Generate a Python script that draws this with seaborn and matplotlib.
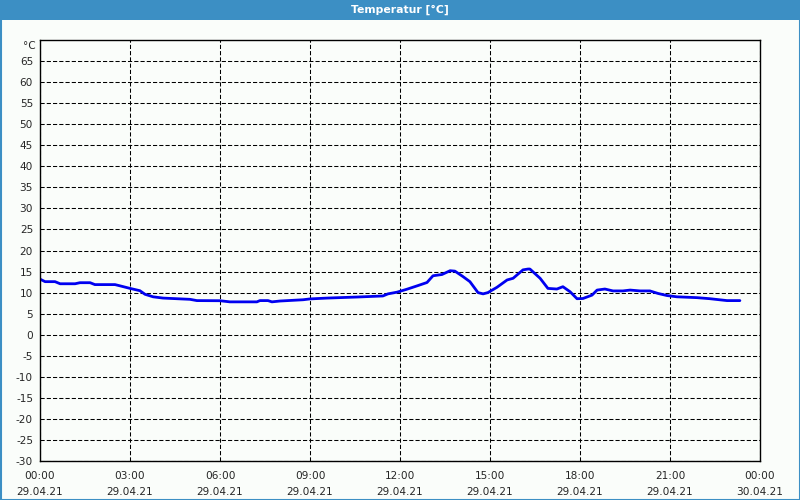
import matplotlib
matplotlib.use("Agg")
import matplotlib.pyplot as plt
import seaborn as sns
import pandas as pd
from matplotlib.patches import Rectangle
from matplotlib.ticker import MultipleLocator

# --- data (hours since 29.04.21 00:00, temperature in °C) ---
hours = [0.0, 0.17, 0.5, 0.67, 1.17, 1.33, 1.67, 1.83, 2.5, 2.67, 3.0, 3.33, 3.5, 3.77,
         4.1, 5.0, 5.23, 6.0, 6.33, 7.23, 7.33, 7.6, 7.73, 8.0, 8.77, 9.0, 9.57, 10.57,
         11.43, 11.6, 11.9, 12.23, 12.57, 12.9, 13.1, 13.4, 13.67, 13.83, 14.1, 14.33,
         14.6, 14.77, 14.93, 15.23, 15.57, 15.77, 16.1, 16.27, 16.33, 16.67, 16.93,
         17.23, 17.43, 17.67, 17.9, 18.1, 18.4, 18.57, 18.83, 19.1, 19.43, 19.67, 20.0,
         20.33, 20.6, 20.9, 21.23, 21.9, 22.33, 22.9, 23.33]
temps = [13.2, 12.6, 12.6, 12.1, 12.1, 12.35, 12.35, 11.9, 11.9, 11.6, 11.0, 10.45, 9.6, 9.0,
         8.7, 8.4, 8.1, 8.07, 7.8, 7.8, 8.1, 8.1, 7.8, 8.0, 8.3, 8.5, 8.7, 8.95,
         9.2, 9.7, 10.1, 10.8, 11.6, 12.4, 14.0, 14.3, 15.2, 15.1, 13.8, 12.6,
         10.0, 9.7, 10.0, 11.25, 13.0, 13.4, 15.4, 15.6, 15.6, 13.4, 11.0,
         10.85, 11.4, 10.2, 8.55, 8.6, 9.4, 10.6, 10.85, 10.4, 10.4, 10.6, 10.4,
         10.4, 9.8, 9.3, 9.0, 8.8, 8.55, 8.1, 8.1]

x_tick_hours = [0, 3, 6, 9, 12, 15, 18, 21, 24]
x_tick_labels = ["00:00\n29.04.21", "03:00\n29.04.21", "06:00\n29.04.21",
                 "09:00\n29.04.21", "12:00\n29.04.21", "15:00\n29.04.21",
                 "18:00\n29.04.21", "21:00\n29.04.21", "00:00\n30.04.21"]
y_ticks = list(range(-30, 70, 5))
title = "Temperatur [°C]"
unit = "°C"

df = pd.DataFrame({"hour": hours, "temp": temps})

sns.set_style("white")
plt.rcParams["font.family"] = ["DejaVu Sans"]

bg = "#fafdfa"
fig = plt.figure(figsize=(8, 5), dpi=100, facecolor=bg)
ax = fig.add_axes([40/800, 1-461/500, 720/800, 421/500])
ax.set_facecolor(bg)

sns.lineplot(data=df, x="hour", y="temp", ax=ax, color="#0000f0", linewidth=2.0)

ax.set_xlim(0, 24)
ax.set_ylim(-30, 70)
ax.set_xticks(x_tick_hours)
ax.set_xticklabels(x_tick_labels, fontsize=7.6, linespacing=1.75)
ax.xaxis.set_minor_locator(MultipleLocator(1))
ax.set_yticks(y_ticks)
ax.set_yticklabels([str(v) for v in y_ticks], fontsize=7.6)
ax.set_xlabel("")
ax.set_ylabel("")
ax.tick_params(axis="x", which="major", direction="out", length=3, width=1, color="black", pad=4)
ax.tick_params(axis="x", which="minor", direction="out", length=3, width=1, color="black")
ax.tick_params(axis="y", which="major", direction="out", length=2, width=1, color="black", pad=3)
for s in ax.spines.values():
    s.set_color("black")
    s.set_linewidth(1)
    s.set_visible(True)

ax.grid(True, which="major", color="black", linestyle=(0, (4, 2)), linewidth=0.75)
ax.set_axisbelow(True)

fig.text(36/800, 1-46/500, unit, ha="right", va="center", fontsize=7.6)

# title bar and frame
fig.patches.append(Rectangle((0, 1-20/500), 1, 20/500, transform=fig.transFigure,
                             facecolor="#3c8fc4", edgecolor="none", zorder=0))
fig.text(0.5, 1-10/500, title, ha="center", va="center", fontsize=7.8,
         fontweight="bold", color="white")
fig.patches.append(Rectangle((0.5/800, 0.5/500), 799/800, 1-1/500, transform=fig.transFigure,
                             facecolor="none", edgecolor="#3c8fc4", linewidth=1.5))

fig.savefig("out.png", dpi=100, facecolor=bg)
